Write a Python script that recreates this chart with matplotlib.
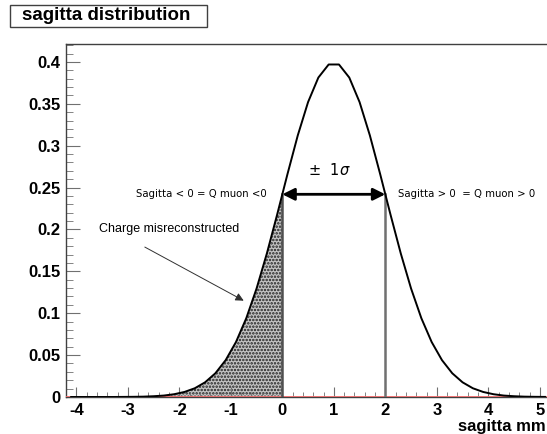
import matplotlib
matplotlib.use('Agg')
import matplotlib.pyplot as plt
from matplotlib.ticker import MultipleLocator
from matplotlib.patches import Rectangle
import numpy as np

# curve (drawn as a polyline, step 0.2)
x_pts = [-4.1, -3.9, -3.7, -3.5, -3.3, -3.1, -2.9, -2.7, -2.5, -2.3,
         -2.1, -1.9, -1.7, -1.5, -1.3, -1.1, -0.9, -0.7, -0.5, -0.3,
         -0.1, 0.1, 0.3, 0.5, 0.7, 0.9, 1.1, 1.3, 1.5, 1.7,
         1.9, 2.1, 2.3, 2.5, 2.7, 2.9, 3.1, 3.3, 3.5, 3.7,
         3.9, 4.1, 4.3, 4.5, 4.7, 4.9, 5.1]
y_pts = [0.0, 0.0, 0.0, 0.0, 0.0, 0.0001, 0.0002, 0.0004, 0.0009, 0.0017,
         0.0033, 0.0060, 0.0104, 0.0175, 0.0283, 0.0440, 0.0656, 0.0940, 0.1295, 0.1714,
         0.2179, 0.2661, 0.3123, 0.3521, 0.3814, 0.3970, 0.3970, 0.3814, 0.3521, 0.3123,
         0.2661, 0.2179, 0.1714, 0.1295, 0.0940, 0.0656, 0.0440, 0.0283, 0.0175, 0.0104,
         0.0060, 0.0033, 0.0017, 0.0009, 0.0004, 0.0002, 0.0001]

mean = 1.0
sigma = 1.0
x_lo = mean - sigma
x_hi = mean + sigma

title = 'sagitta distribution'
xlabel = 'sagitta mm'
label_left = 'Sagitta < 0 = Q muon <0'
label_right = 'Sagitta > 0  = Q muon > 0'
label_sigma = r'$\pm\ \ 1\sigma$'
label_mis = 'Charge misreconstructed'

x = np.array(x_pts)
y = np.array(y_pts)
y_lo = np.interp(x_lo, x, y)
y_hi = np.interp(x_hi, x, y)

plt.rcParams['font.family'] = ['Liberation Sans', 'DejaVu Sans']
plt.rcParams['hatch.linewidth'] = 1.2

fig = plt.figure(figsize=(5.47, 4.34), dpi=100)
ax = fig.add_axes([0.1207, 0.0853, 0.885, 0.8134])

# shaded part of the curve, x < 0
mask = x <= x_lo
xf = np.append(x[mask], x_lo)
yf = np.append(y[mask], y_lo)
ax.fill_between(xf, 0, yf, facecolor='#c4c4c4', edgecolor='#202020',
                hatch='.....', linewidth=0)

ax.axhline(0, color='#f06a6a', lw=1.3, zorder=3)
ax.plot(x, y, color='black', lw=1.4, zorder=4)
ax.plot([x_lo, x_lo], [0, y_lo], color='#505050', lw=1.8, zorder=3)
ax.plot([x_hi, x_hi], [0, y_hi], color='#707070', lw=1.8, zorder=3)

ax.annotate('', xy=(x_lo, y_lo), xytext=(x_hi, y_hi),
            arrowprops=dict(arrowstyle='<|-|>', color='black', lw=2,
                            mutation_scale=18, shrinkA=0, shrinkB=0))
ax.text(0.92, 0.271, label_sigma, ha='center', va='center', fontsize=10.5)
ax.text(-0.3, y_lo, label_left, ha='right', va='center', fontsize=7.3,
        family='DejaVu Sans')
ax.text(2.25, y_hi, label_right, ha='left', va='center', fontsize=7.3,
        family='DejaVu Sans')
ax.text(-3.55, 0.201, label_mis, ha='left', va='center', fontsize=9)
ax.annotate('', xy=(-0.75, 0.115), xytext=(-2.67, 0.179),
            arrowprops=dict(arrowstyle='-|>', color='#303030', lw=0.7,
                            mutation_scale=12, shrinkA=0, shrinkB=0))

ax.set_xlim(-4.2, 5.2)
ax.set_ylim(0, 0.4215)
ax.xaxis.set_minor_locator(MultipleLocator(0.2))
ax.yaxis.set_minor_locator(MultipleLocator(0.01))
ax.set_yticks(np.arange(0, 0.401, 0.05))
ax.set_yticklabels(['0', '0.05', '0.1', '0.15', '0.2', '0.25', '0.3', '0.35', '0.4'])
ax.set_xticks(np.arange(-4, 5.1, 1))
ax.set_xticklabels(['-4', '-3', '-2', '-1', '0', '1', '2', '3', '4', '5'])
ax.tick_params(axis='both', which='both', direction='in', color='#707070',
               labelsize=12)
ax.tick_params(axis='x', which='major', length=7.5, pad=4)
ax.tick_params(axis='x', which='minor', length=3.8)
ax.tick_params(axis='y', which='major', length=10, pad=4)
ax.tick_params(axis='y', which='minor', length=5)
for lab in ax.get_xticklabels() + ax.get_yticklabels():
    lab.set_fontweight('bold')
for s in ax.spines.values():
    s.set_color('#404040')
    s.set_linewidth(1)

fig.text(0.997, 0.018, xlabel, ha='right', va='center', fontsize=12,
         fontweight='bold')

# title box, ROOT style
fig.patches.append(Rectangle((10 / 547, 1 - 27 / 434), 197 / 547, 22 / 434,
                             transform=fig.transFigure, facecolor='white',
                             edgecolor='#404040', lw=1))
fig.text(22 / 547, 1 - 16 / 434, title, ha='left', va='center', fontsize=13.5,
         fontweight='bold')

fig.savefig('out.png', dpi=100)
